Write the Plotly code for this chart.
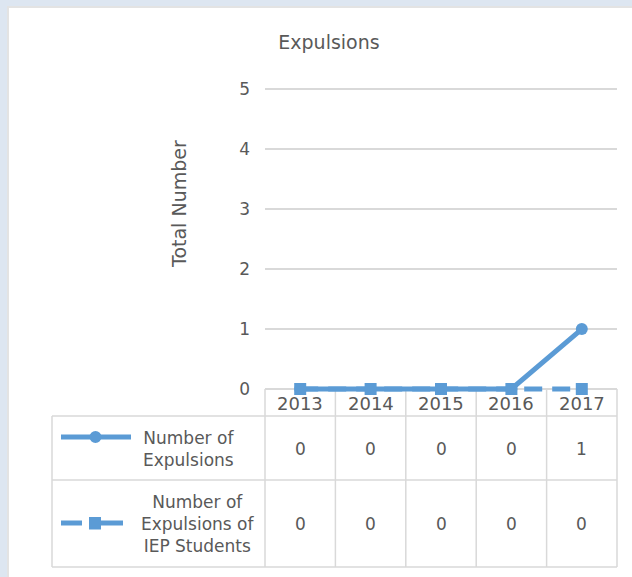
import plotly.graph_objects as go

# Chart data
years = ["2013", "2014", "2015", "2016", "2017"]
expulsions = [0, 0, 0, 0, 1]
iep_expulsions = [0, 0, 0, 0, 0]
series_names = ["Number of<br>Expulsions", "Number of<br>Expulsions of<br>IEP Students"]
y_ticks = [0, 1, 2, 3, 4, 5]

W, H = 632, 577
L, R, T, B = 265, 15, 88, 185
PW, PH = W - L - R, H - T - B
Y_RANGE = [-0.05, 5.02]

BLUE = "#5b9bd5"
GRID = "#d9d9d9"
TXT = "#595959"
FONT = "DejaVu Sans"


def px(x):
    return (x - L) / PW


def py(y):
    return (H - B - y) / PH


def note(x, y, text, size, **kw):
    return dict(x=px(x), y=py(y), xref="paper", yref="paper", text=text, showarrow=False,
                xanchor="center", yanchor="middle",
                font=dict(size=size, color=TXT, family=FONT), **kw)


fig = go.Figure()

fig.add_trace(go.Scatter(
    x=years, y=expulsions, mode="lines+markers", name="Number of Expulsions",
    line=dict(color=BLUE, width=5), marker=dict(symbol="circle", size=12, color=BLUE),
    cliponaxis=False, showlegend=False))
fig.add_trace(go.Scatter(
    x=years, y=iep_expulsions, mode="lines+markers", name="Number of Expulsions of IEP Students",
    line=dict(color=BLUE, width=5, dash="18px,10px"),
    marker=dict(symbol="square", size=12, color=BLUE),
    cliponaxis=False, showlegend=False))

shapes = []
annotations = []

# background panel
shapes.append(dict(type="rect", xref="paper", yref="paper", layer="below",
                   x0=px(8), x1=px(W + 5), y0=py(H + 5), y1=py(7),
                   fillcolor="white", line=dict(color="#e3e3e3", width=2)))

# data table grid
table_top, header_bot, row_mid, table_bot = 389, 416, 480, 567
table_left = 52
ncol = len(years)
col_edges = [L + i * PW / ncol for i in range(ncol + 1)]


def hline(x0, x1, y):
    shapes.append(dict(type="line", xref="paper", yref="paper", layer="below",
                       x0=px(x0), x1=px(x1), y0=py(y), y1=py(y),
                       line=dict(color=GRID, width=1.5)))


def vline(x, y0, y1):
    shapes.append(dict(type="line", xref="paper", yref="paper", layer="below",
                       x0=px(x), x1=px(x), y0=py(y0), y1=py(y1),
                       line=dict(color=GRID, width=1.5)))


hline(L, W - R, table_top)
hline(table_left, W - R, header_bot)
hline(table_left, W - R, row_mid)
hline(table_left, W - R, table_bot)
vline(table_left, header_bot, table_bot)
for xe in col_edges:
    vline(xe, table_top, table_bot)

# header labels and cell values
row_centers = [(header_bot + row_mid) / 2 + 1, (row_mid + table_bot) / 2]
for i, yr in enumerate(years):
    cx = (col_edges[i] + col_edges[i + 1]) / 2
    annotations.append(note(cx, (table_top + header_bot) / 2 + 1, yr, 18))
    for r, vals in enumerate([expulsions, iep_expulsions]):
        annotations.append(note(cx, row_centers[r], str(vals[i]), 17))

# row labels
label_cx = [188, 198]
for r, name in enumerate(series_names):
    annotations.append(note(label_cx[r], row_centers[r], name, 17, align="center"))

# legend keys inside the table
ky1 = 437
shapes.append(dict(type="line", xref="paper", yref="paper", x0=px(61), x1=px(131), y0=py(ky1), y1=py(ky1),
                   line=dict(color=BLUE, width=5)))
shapes.append(dict(type="circle", xref="paper", yref="paper", x0=px(89.5), x1=px(101.5),
                   y0=py(ky1 + 6), y1=py(ky1 - 6), fillcolor=BLUE, line=dict(width=0)))
ky2 = 523
shapes.append(dict(type="line", xref="paper", yref="paper", x0=px(61), x1=px(82), y0=py(ky2), y1=py(ky2),
                   line=dict(color=BLUE, width=5)))
shapes.append(dict(type="line", xref="paper", yref="paper", x0=px(101), x1=px(123), y0=py(ky2), y1=py(ky2),
                   line=dict(color=BLUE, width=5)))
shapes.append(dict(type="rect", xref="paper", yref="paper", x0=px(89), x1=px(101),
                   y0=py(ky2 + 6.5), y1=py(ky2 - 6), fillcolor=BLUE, line=dict(width=0)))

# axis title
annotations.append(note(179, 204, "Total Number", 19, textangle=-90))

fig.update_layout(
    width=W, height=H,
    margin=dict(l=L, r=R, t=T, b=B),
    paper_bgcolor="#dde6f1",
    plot_bgcolor="rgba(0,0,0,0)",
    title=dict(text="Expulsions", x=329 / W, xanchor="center", y=1 - 42 / H, yanchor="middle",
               font=dict(size=19, color=TXT, family=FONT)),
    xaxis=dict(type="category", range=[-0.5, len(years) - 0.5], showticklabels=False,
               showgrid=False, zeroline=False, showline=False, fixedrange=True),
    yaxis=dict(range=Y_RANGE, tickvals=y_ticks, showgrid=True, gridcolor=GRID, gridwidth=1.5,
               zeroline=False, showline=False, ticklabelstandoff=14,
               tickfont=dict(size=17, color=TXT, family=FONT)),
    shapes=shapes,
    annotations=annotations,
    font=dict(family=FONT, color=TXT),
)

fig.write_html("out.html")
